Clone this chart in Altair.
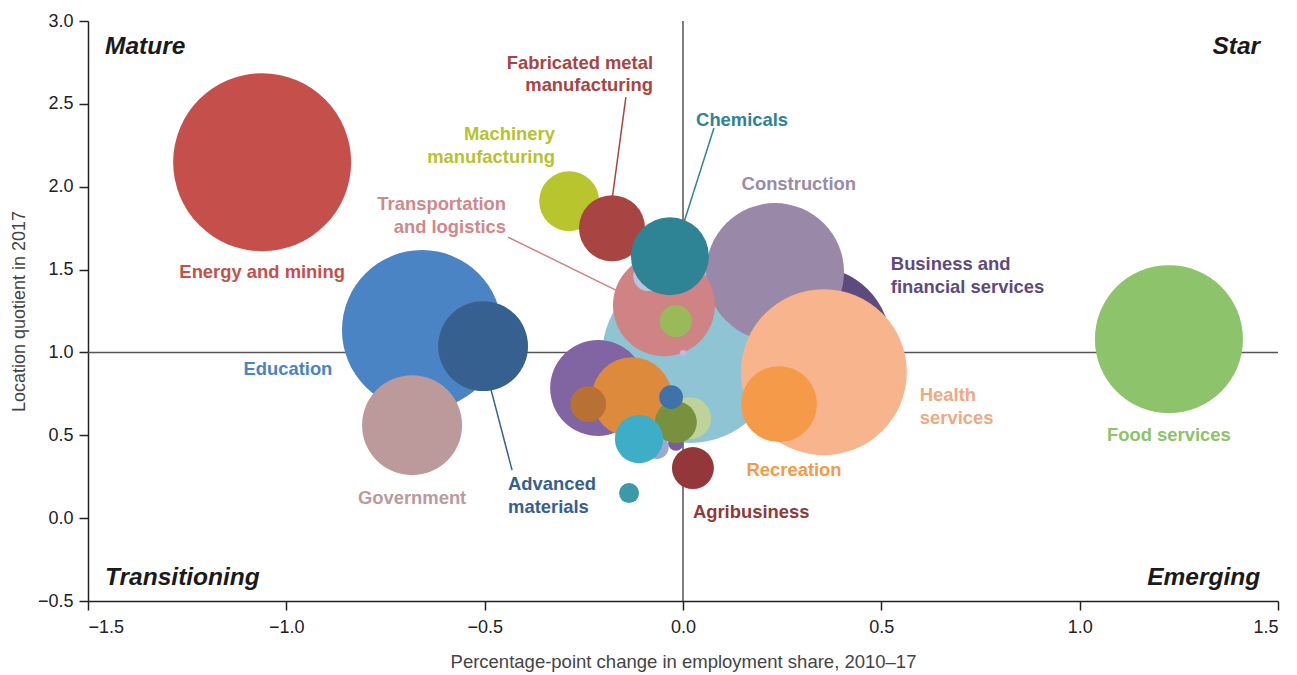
import altair as alt
import pandas as pd

# ---------------- data ----------------
names = [
    "Business and financial services", "Information and tech", "Construction",
    "Health services", "Recreation", "Food services", "Energy and mining",
    "Education", "Government", "Advanced materials", "Machinery manufacturing",
    "Fabricated metal manufacturing", "Transportation and logistics", "Other A",
    "Chemicals", "Other B", "Other C", "Other D", "Other E", "Other F",
    "Other G", "Other H", "Other I", "Other J", "Other K", "Other L",
    "Agribusiness", "Other M",
]
change = [
    0.325, 0.018, 0.232, 0.355, 0.242, 1.225, -1.061,
    -0.658, -0.683, -0.504, -0.287,
    -0.179, -0.048, -0.088,
    -0.033, -0.018, 0.000, -0.214, -0.129, -0.239,
    -0.066, -0.018, 0.018, -0.018, -0.030, -0.111,
    0.025, -0.136,
]
lq = [
    1.044, 0.984, 1.485, 0.881, 0.688, 1.080, 2.148,
    1.135, 0.561, 1.038, 1.913,
    1.750, 1.285, 1.460,
    1.581, 1.189, 0.996, 0.785, 0.730, 0.688,
    0.428, 0.453, 0.603, 0.579, 0.730, 0.477,
    0.302, 0.151,
]
employment = [
    624, 774, 476, 689, 144, 548, 792,
    640, 250, 202, 90,
    109, 260, 22,
    152, 26, 1, 230, 160, 32,
    14, 6, 44, 44, 14, 58,
    44, 10,
]
colors = [
    "#5e4a7e", "#8fc4d4", "#9988a8", "#f8b48c", "#f59a48", "#8dc36b", "#c5504b",
    "#4a84c4", "#bc9a9c", "#35608f", "#b9c52d",
    "#a84542", "#cf8384", "#b9c5de",
    "#2e8395", "#9aba5a", "#c5b8d8", "#8165a2", "#de8a3c", "#b87035",
    "#9aaad0", "#7a5ba0", "#bfd29a", "#78913f", "#3e72a8", "#3eadc8",
    "#93373a", "#3a9aaa",
]

label_text = [
    "Fabricated metal\nmanufacturing", "Machinery\nmanufacturing",
    "Transportation\nand logistics", "Chemicals", "Construction",
    "Energy and mining", "Business and\nfinancial services", "Education",
    "Health\nservices", "Food services", "Recreation", "Government",
    "Advanced\nmaterials", "Agribusiness",
]
label_x = [-0.0756, -0.323, -0.446, 0.149, 0.292, -1.061, 0.524, -0.996,
           0.597, 1.225, 0.280, -0.683, -0.441, 0.025]
label_y = [2.748, 2.317, 1.895, 2.402, 2.016, 1.485, 1.533, 0.899,
           0.742, 0.501, 0.290, 0.121, 0.205, 0.036]
label_align = ["right", "right", "right", "center", "center", "center", "left",
               "center", "left", "center", "center", "center", "left", "left"]
label_color = ["#a84542", "#b6c22e", "#d0898a", "#2e8395", "#9a8aab", "#c5504b",
               "#5e4a7e", "#4a84c4", "#eea985", "#8dc36b", "#f59a48", "#bc9a9c",
               "#35608f", "#93373a"]

leader_x = [-0.144, 0.078, -0.441, -0.431]
leader_y = [2.541, 2.354, 1.696, 0.290]
leader_x2 = [-0.179, 0.0025, -0.154, -0.487]
leader_y2 = [1.919, 1.786, 1.358, 0.803]
leader_color = ["#a84542", "#2e8395", "#cf8384", "#35608f"]

quad_text = ["Mature", "Star", "Transitioning", "Emerging"]
quad_x = [-1.457, 1.455, -1.457, 1.455]
quad_y = [2.843, 2.843, -0.362, -0.362]
quad_align = ["left", "right", "left", "right"]

x_ticks = [-1.5, -1.0, -0.5, 0.0, 0.5, 1.0, 1.5]
y_ticks = [-0.5, 0.0, 0.5, 1.0, 1.5, 2.0, 2.5, 3.0]

FONT = "Liberation Sans"

# ---------------- tables ----------------
bub = pd.DataFrame({"name": names, "change": change, "lq": lq,
                    "emp": employment, "z": list(range(len(names)))})
xs = alt.Scale(domain=[-1.5, 1.5], nice=False, zero=False)
ys = alt.Scale(domain=[-0.5, 3.0], nice=False, zero=False)

common_axis = dict(grid=False, domainColor="#222222", tickColor="#222222", domainWidth=1.5,
                   tickWidth=1.5, tickSize=9, labelFont=FONT, labelFontSize=18,
                   labelColor="#222222", titleFont=FONT,
                   titleFontWeight="normal", titleColor="#444444", format=".1f")
x_axis = alt.Axis(values=x_ticks, title="Percentage-point change in employment share, 2010–17",
                  labelPadding=8, titlePadding=16, titleFontSize=18.5, **common_axis)
y_axis = alt.Axis(values=y_ticks, title="Location quotient in 2017",
                  labelPadding=6, titlePadding=9, titleFontSize=18, **common_axis)

X = lambda: alt.X("change:Q", scale=xs, axis=x_axis)
Y = lambda: alt.Y("lq:Q", scale=ys, axis=y_axis)

vline = alt.Chart(pd.DataFrame({"change": [0.0]})).mark_rule(
    color="#555555", strokeWidth=1.5).encode(x=X())
hline = alt.Chart(pd.DataFrame({"lq": [1.0]})).mark_rule(
    color="#555555", strokeWidth=1.5).encode(y=Y())

bubbles = alt.Chart(bub).mark_circle(opacity=1, strokeWidth=0).encode(
    x=X(), y=Y(),
    size=alt.Size("emp:Q", scale=alt.Scale(domain=[0, 1000], range=[0, 40000]), legend=None),
    color=alt.Color("name:N", scale=alt.Scale(domain=names, range=colors), legend=None),
    order=alt.Order("z:Q"),
)

leaders = alt.Chart(pd.DataFrame({"change": leader_x, "lq": leader_y,
                                  "x2": leader_x2, "y2": leader_y2,
                                  "c": leader_color})).mark_rule(strokeWidth=1.5).encode(
    x=X(), y=Y(), x2="x2:Q", y2="y2:Q",
    color=alt.Color("c:N", scale=None),
)

lab_df = pd.DataFrame({"t": label_text, "change": label_x, "lq": label_y,
                       "a": label_align, "c": label_color})
label_layers = []
for al in ["left", "center", "right"]:
    sub = lab_df[lab_df["a"] == al]
    label_layers.append(
        alt.Chart(sub).mark_text(align=al, baseline="middle", font=FONT, fontSize=18.4,
                                 fontWeight="bold", lineBreak="\n", lineHeight=22.5).encode(
            x=X(), y=Y(), text="t:N", color=alt.Color("c:N", scale=None))
    )

q_df = pd.DataFrame({"t": quad_text, "change": quad_x, "lq": quad_y, "a": quad_align})
quad_layers = []
for al in ["left", "right"]:
    sub = q_df[q_df["a"] == al]
    quad_layers.append(
        alt.Chart(sub).mark_text(align=al, baseline="middle", font=FONT, fontSize=24.5,
                                 fontWeight="bold", fontStyle="italic", color="#1a1a1a").encode(
            x=X(), y=Y(), text="t:N")
    )

chart = alt.layer(vline, hline, bubbles, leaders, *label_layers, *quad_layers).properties(
    width=1190, height=580,
    autosize=alt.AutoSizeParams(type="none"),
    padding={"left": 80, "top": 13, "right": 11, "bottom": 74},
).configure_view(stroke=None)

chart.save("out.html", embed_options={"renderer": "svg", "actions": False})
